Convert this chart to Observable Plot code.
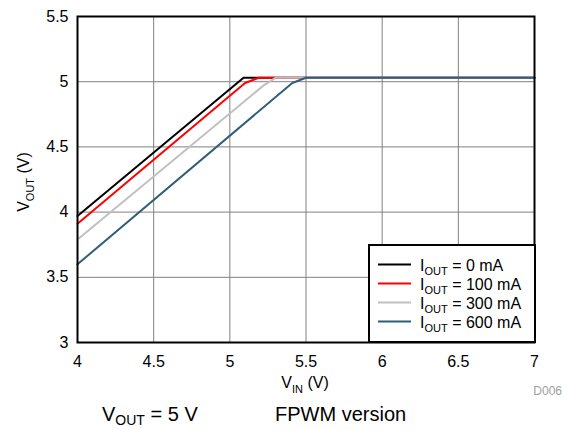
<!DOCTYPE html>
<html><head><meta charset="utf-8">
<script src="https://cdn.jsdelivr.net/npm/d3@7"></script>
<script src="https://cdn.jsdelivr.net/npm/@observablehq/plot@0.6"></script>
<style>
body{margin:0;background:#fff;font-family:"Liberation Sans",Arial,sans-serif;}
#wrap{position:relative;width:568px;height:430px;}
</style></head>
<body><div id="wrap"><div id="chart"></div></div>
<script>
const seriesNames = ["I_OUT = 0 mA","I_OUT = 100 mA","I_OUT = 300 mA","I_OUT = 600 mA"];
const seriesLabels = ["0 mA","100 mA","300 mA","600 mA"];
const colors = ["#000000","#ff0000","#c0c0c0","#2f5f78"];
const vin0 = [4, 5.09, 7];
const vout0 = [3.97, 5.03, 5.03];
const vin100 = [4, 5.1, 5.19, 7];
const vout100 = [3.91, 4.99, 5.03, 5.03];
const vin300 = [4, 5.22, 5.3, 7];
const vout300 = [3.79, 4.97, 5.03, 5.03];
const vin600 = [4, 5.41, 5.5, 7];
const vout600 = [3.6, 4.99, 5.03, 5.03];
const xTicks = [4, 4.5, 5, 5.5, 6, 6.5, 7];
const yTicks = [3, 3.5, 4, 4.5, 5, 5.5];

const vins = [vin0, vin100, vin300, vin600];
const vouts = [vout0, vout100, vout300, vout600];
const data = [];
seriesNames.forEach((s, i) => vins[i].forEach((v, j) => data.push({series: s, vin: v, vout: vouts[i][j]})));

const plot = Plot.plot({
  width: 568, height: 430,
  marginLeft: 77, marginRight: 34, marginTop: 16, marginBottom: 88,
  style: {fontFamily: "Liberation Sans, Arial, sans-serif", fontSize: "16px", color: "#000", background: "#fff"},
  x: {domain: [4, 7], ticks: xTicks, tickFormat: d => String(d), label: null},
  y: {domain: [3, 5.5], ticks: yTicks, tickFormat: d => String(d), label: null},
  color: {domain: seriesNames, range: colors},
  marks: [
    Plot.gridX(xTicks, {stroke: "#808080", strokeOpacity: 1, strokeWidth: 1}),
    Plot.gridY(yTicks, {stroke: "#808080", strokeOpacity: 1, strokeWidth: 1}),
    Plot.axisX(xTicks, {tickSize: 0, tickPadding: 13, fontSize: 16, tickFormat: d => String(d)}),
    Plot.axisY(yTicks, {tickSize: 0, tickPadding: 9, fontSize: 16, tickFormat: d => String(d)}),
    Plot.line(data, {x: "vin", y: "vout", z: "series", stroke: "series", strokeWidth: 2}),
    Plot.frame({stroke: "#000", strokeWidth: 2})
  ]
});
document.getElementById("chart").appendChild(plot);
const svg = d3.select(plot);
function sub(sel, main, subtxt, rest, size, subsize, drop) {
  sel.attr("font-size", size).attr("fill", "#000");
  sel.append("tspan").text(main);
  sel.append("tspan").attr("font-size", subsize).attr("dy", drop).text(subtxt);
  sel.append("tspan").attr("dy", -drop).text(rest);
}
// Axis titles
sub(svg.append("text").attr("transform", "translate(29,182) rotate(-90)").attr("text-anchor", "middle"),
  "V", "OUT", " (V)", 16, 11, 4.5);
sub(svg.append("text").attr("x", 305).attr("y", 388).attr("text-anchor", "middle"),
  "V", "IN", " (V)", 16, 11, 4.5);
svg.append("text").attr("x", 562).attr("y", 395).attr("text-anchor", "end")
  .attr("font-size", 12).attr("fill", "#a0a0a0").text("D006");
// Caption
sub(svg.append("text").attr("x", 102).attr("y", 421).attr("text-anchor", "start"),
  "V", "OUT", " = 5 V", 20, 14, 4);
svg.append("text").attr("x", 275).attr("y", 421).attr("text-anchor", "start")
  .attr("font-size", 20).attr("fill", "#000").text("FPWM version");
// Legend
const lg = svg.append("g");
lg.append("rect").attr("x", 369).attr("y", 245).attr("width", 166).attr("height", 97)
  .attr("fill", "#fff").attr("stroke", "#000").attr("stroke-width", 2);
seriesLabels.forEach((lab, i) => {
  const y = 264.5 + i * 19;
  lg.append("line").attr("x1", 378).attr("x2", 411).attr("y1", y).attr("y2", y)
    .attr("stroke", colors[i]).attr("stroke-width", 2);
  sub(lg.append("text").attr("x", 420).attr("y", y + 6).attr("text-anchor", "start"),
    "I", "OUT", " = " + lab, 16, 11, 4.5);
});
</script></body></html>
